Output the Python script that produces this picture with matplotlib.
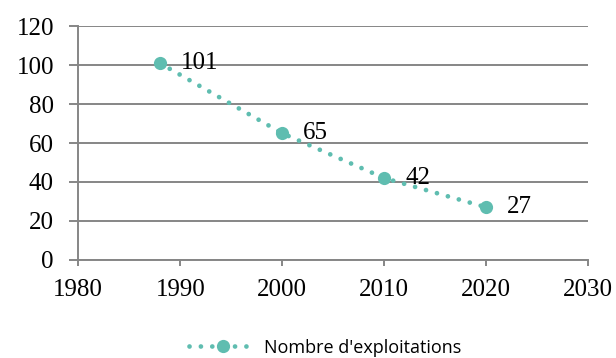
import matplotlib.pyplot as plt

years = [1988, 2000, 2010, 2020]
exploitations = [101, 65, 42, 27]
series_name = "Nombre d'exploitations"

teal = "#5fbdb0"
grid_gray = "#868686"
serif = "Liberation Serif"

fig = plt.figure(figsize=(6.16, 3.58), dpi=100)
ax = fig.add_axes([0.127, 0.274, 0.828, 0.653])

ax.plot(years, exploitations, color=teal, linewidth=3.4,
        linestyle=(0, (0.01, 2.4)), dash_capstyle="round",
        marker="o", markersize=9.5, markeredgewidth=0, label=series_name)

for x, y in zip(years, exploitations):
    ax.annotate(str(y), (x, y), xytext=(15, 0), textcoords="offset points",
                va="center", ha="left", fontsize=18, family=serif)

ax.set_xlim(1980, 2030)
ax.set_ylim(0, 120)
ax.set_xticks(range(1980, 2031, 10))
ax.set_yticks(range(0, 121, 20))
ax.grid(axis="y", color=grid_gray, linewidth=1.4)
ax.set_axisbelow(True)

for side in ["top", "right"]:
    ax.spines[side].set_visible(False)
for side in ["left", "bottom"]:
    ax.spines[side].set_color(grid_gray)
    ax.spines[side].set_linewidth(1.4)

ax.tick_params(axis="both", colors=grid_gray, width=1.4,
               labelcolor="black", labelsize=18)
ax.tick_params(axis="x", length=4, pad=10)
ax.tick_params(axis="y", length=6.5, pad=11)
for lbl in ax.get_xticklabels() + ax.get_yticklabels():
    lbl.set_family(serif)

ax.legend(loc="center", bbox_to_anchor=(0.484, -0.376), frameon=False,
          prop={"family": "Open Sans", "size": 13}, handlelength=3.8,
          handletextpad=0.4)

fig.savefig("out.png", dpi=100)
